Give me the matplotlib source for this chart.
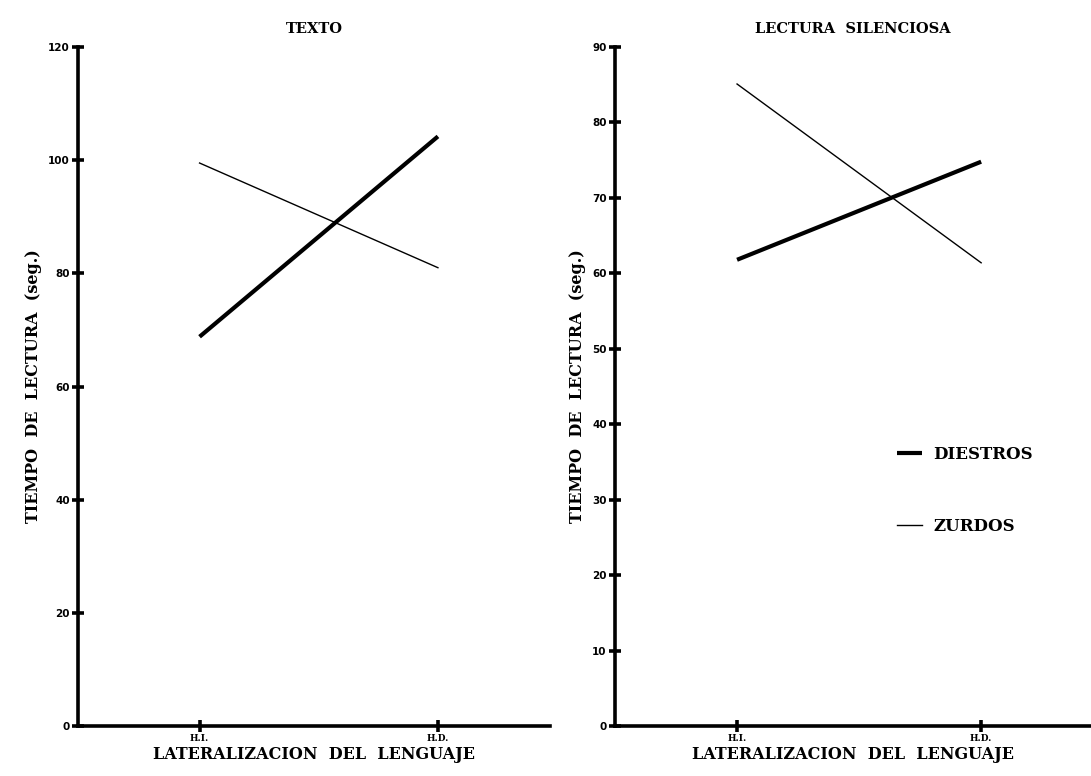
import matplotlib
matplotlib.use("Agg")
import matplotlib.pyplot as plt

# data
grupos = ["H.I.", "H.D."]
texto_diestros = [68.8, 104.2]
texto_zurdos = [99.5, 81.0]
silenciosa_diestros = [61.8, 74.8]
silenciosa_zurdos = [85.1, 61.4]

serif = "DejaVu Serif"
sans = "DejaVu Sans"

fig = plt.figure(figsize=(10.91, 7.76), dpi=100)
ax1 = fig.add_axes([0.0715, 0.0644, 0.4326, 0.875])
ax2 = fig.add_axes([0.5637, 0.0644, 0.4363, 0.875])


def style_axes(ax, title, ymax, step):
    '''common look of both panels'''
    x = [1, 2]
    ax.set_xlim(0.49, 2.47)
    ax.set_ylim(0, ymax)
    ax.set_xticks(x)
    ax.set_xticklabels(grupos, fontfamily=serif, fontweight="bold", fontsize=6.5)
    ax.set_yticks(range(0, ymax + 1, step))
    for lab in ax.get_yticklabels():
        lab.set_fontfamily(sans)
        lab.set_fontweight("bold")
        lab.set_fontsize(7.5)
    ax.spines["top"].set_visible(False)
    ax.spines["right"].set_visible(False)
    ax.spines["left"].set_linewidth(2.6)
    ax.spines["bottom"].set_linewidth(2.6)
    ax.tick_params(axis="both", direction="inout", length=8, width=2.6, pad=2)
    ax.set_title(title, fontfamily=serif, fontweight="bold", fontsize=10.5, pad=10)
    ax.set_xlabel("LATERALIZACION  DEL  LENGUAJE", fontfamily=serif,
                  fontweight="bold", fontsize=11.5, labelpad=2)
    ax.set_ylabel("TIEMPO  DE  LECTURA  (seg.)", fontfamily=serif,
                  fontweight="bold", fontsize=11.5, labelpad=4)


ax1.plot([1, 2], texto_diestros, color="black", lw=3.0, solid_capstyle="butt")
ax1.plot([1, 2], texto_zurdos, color="black", lw=1.0)
style_axes(ax1, "TEXTO", 120, 20)

ax2.plot([1, 2], silenciosa_diestros, color="black", lw=3.0,
         solid_capstyle="butt", label="DIESTROS")
ax2.plot([1, 2], silenciosa_zurdos, color="black", lw=1.0, label="ZURDOS")
style_axes(ax2, "LECTURA  SILENCIOSA", 90, 10)
ax2.set_xlim(0.5, 2.45)

leg = ax2.legend(loc="upper left", bbox_to_anchor=(0.56, 0.435), frameon=False,
                 handlelength=1.5, handletextpad=0.7, labelspacing=3.3,
                 prop={"family": serif, "weight": "bold", "size": 12})

fig.savefig("out.png", dpi=100)
